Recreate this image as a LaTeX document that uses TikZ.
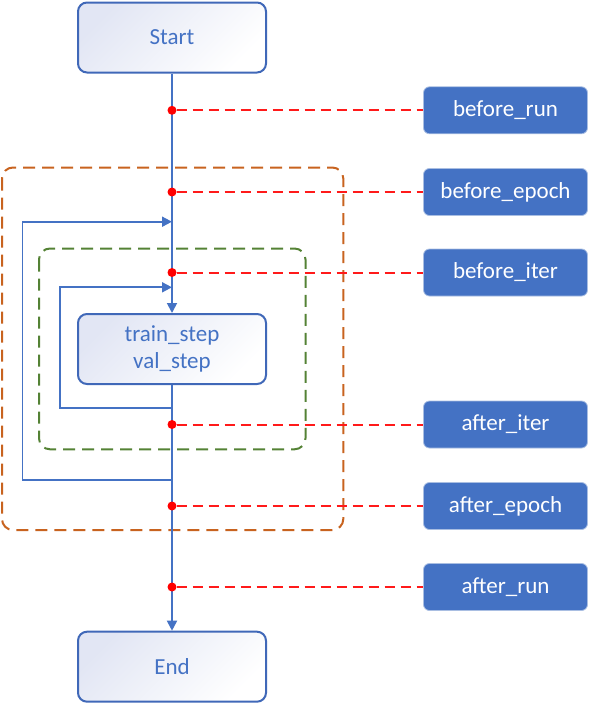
\documentclass[tikz,border=0pt]{standalone}
\usepackage{fontspec}
\setmainfont{Carlito}
\usetikzlibrary{arrows.meta}
\definecolor{obl}{HTML}{4472C4}
\definecolor{obd}{HTML}{4068B8}
\definecolor{grd}{HTML}{E2E6F4}
\definecolor{hookedge}{HTML}{A9BEE2}
\definecolor{org}{HTML}{C8631F}
\definecolor{grn}{HTML}{548235}
\definecolor{rdl}{HTML}{FF1A1A}
\tikzset{
  flowbox/.style={draw=obd, line width=2pt, rounded corners=9pt,
    minimum width=188pt, minimum height=70pt, top color=grd, bottom color=white,
    shading angle=45, text=obl, font=\fontsize{23}{27.5}\selectfont, align=center},
  hookbox/.style={fill=obl, draw=hookedge, line width=0.8pt, rounded corners=6pt,
    minimum width=164pt, minimum height=47pt, text=white,
    font=\fontsize{23}{27}\selectfont},
  hookdot/.style={circle, fill=red, inner sep=0pt, minimum size=9pt},
  hookline/.style={draw=rdl, line width=2pt, dash pattern=on 10pt off 6pt},
  flow/.style={draw=obl, line width=1.8pt, -{Triangle[length=10pt,width=10pt]}},
  epochframe/.style={draw=org, line width=2pt, dash pattern=on 12pt off 7pt, rounded corners=11pt},
  iterframe/.style={draw=grn, line width=2pt, dash pattern=on 12pt off 7pt, rounded corners=11pt}
}
\begin{document}
\begin{tikzpicture}[x=1pt,y=-1pt]
\useasboundingbox (0,0) rectangle (589,704);
% frames
\draw[epochframe] (2,167.5) rectangle (343.3,530);
\draw[iterframe] (39,248.5) rectangle (305.5,449.3);
% main nodes
\node[flowbox] (start) at (172,37.5) {Start};
\node[flowbox] (train) at (172,349) {train\_step\\val\_step};
\node[flowbox] (end) at (172,666.7) {End};
% hook boxes
\node[hookbox] (brun) at (505.5,110.3) {before\_run};
\node[hookbox] (bepoch) at (505.5,192) {before\_epoch};
\node[hookbox] (biter) at (505.5,272.5) {before\_iter};
\node[hookbox] (aiter) at (505.5,424.5) {after\_iter};
\node[hookbox] (aepoch) at (505.5,506) {after\_epoch};
\node[hookbox] (arun) at (505.5,587) {after\_run};
% loop coordinates
\coordinate (oin) at (172,221.7);
\coordinate (iin) at (172,287.3);
\coordinate (iout) at (172,407.7);
\coordinate (oout) at (172,480);
% main flow
\draw[flow] (start) -- (train);
\draw[flow] (train) -- (end);
% loops
\draw[flow] (oout) -- ++(-149.5,0) |- (oin);
\draw[flow] (iout) -- ++(-112,0) |- (iin);
% hook dots
\node[hookdot] (dbrun) at (172,110.3) {};
\node[hookdot] (dbepoch) at (172,192) {};
\node[hookdot] (dbiter) at (172,272.5) {};
\node[hookdot] (daiter) at (172,424.5) {};
\node[hookdot] (daepoch) at (172,506) {};
\node[hookdot] (darun) at (172,587) {};
% hook lines
\draw[hookline] (dbrun) -- (brun);
\draw[hookline] (dbepoch) -- (bepoch);
\draw[hookline] (dbiter) -- (biter);
\draw[hookline] (daiter) -- (aiter);
\draw[hookline] (daepoch) -- (aepoch);
\draw[hookline] (darun) -- (arun);
\end{tikzpicture}
\end{document}
